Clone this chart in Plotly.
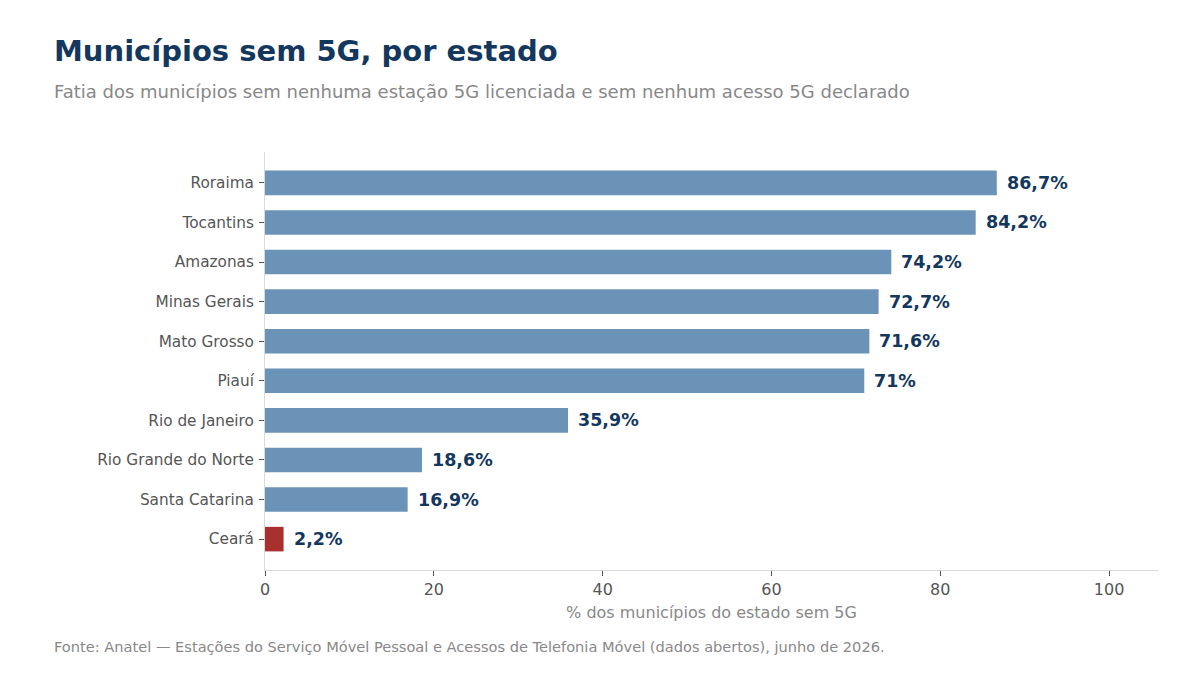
import plotly.graph_objects as go

estados = ["Roraima", "Tocantins", "Amazonas", "Minas Gerais", "Mato Grosso",
           "Piauí", "Rio de Janeiro", "Rio Grande do Norte", "Santa Catarina", "Ceará"]
valores = [86.7, 84.2, 74.2, 72.7, 71.6, 71.0, 35.9, 18.6, 16.9, 2.2]
rotulos = ["86,7%", "84,2%", "74,2%", "72,7%", "71,6%", "71%", "35,9%", "18,6%", "16,9%", "2,2%"]
destaque = "Ceará"

AZUL = "#6a93b7"
VERMELHO = "#a8312f"
NAVY = "#14375e"
CINZA = "#888888"

# page places the figure 8px from the top-left corner
OFF = 8
W, H = 1200, 675
ML, MR, MT, MB = 265 - OFF, 42 + OFF, 152 - OFF, 105 + OFF

cores = [VERMELHO if e == destaque else AZUL for e in estados]

fig = go.Figure()
fig.add_trace(go.Bar(
    x=valores, y=estados, orientation="h",
    marker=dict(color=cores, line=dict(width=0)),
    width=0.62, hoverinfo="skip",
))

for e, v, r in zip(estados, valores, rotulos):
    fig.add_annotation(x=v, y=e, text="<b>" + r + "</b>", showarrow=False,
                       xanchor="left", xshift=8,
                       font=dict(size=17.5, color=NAVY, family="DejaVu Sans"))

fig.update_layout(
    width=W, height=H,
    paper_bgcolor="white", plot_bgcolor="white",
    margin=dict(l=ML, r=MR, t=MT, b=MB),
    font=dict(family="DejaVu Sans", color="#555555"),
    showlegend=False,
)
fig.update_xaxes(
    range=[0, 105.8], tickvals=[0, 20, 40, 60, 80, 100],
    showgrid=False, zeroline=False,
    showline=True, linecolor="#d9d9d9", linewidth=1,
    ticks="outside", ticklen=5, tickcolor="#555555",
    tickfont=dict(size=16, color="#555555"),
    title=dict(text="% dos municípios do estado sem 5G", font=dict(size=16, color=CINZA), standoff=8),
)
fig.update_yaxes(
    autorange=False, range=[9.78, -0.78],
    categoryorder="array", categoryarray=estados,
    showgrid=False, zeroline=False,
    showline=True, linecolor="#d9d9d9", linewidth=1,
    ticks="outside", ticklen=5, tickcolor="#555555",
    ticklabelstandoff=2,
    tickfont=dict(size=15.3, color="#555555"),
)


def texto(t, px, py, size, color):
    # px, py in page pixels -> paper coords of the plot area
    x = (px - OFF - ML) / (W - ML - MR)
    y = 1 - (py - OFF - MT) / (H - MT - MB)
    fig.add_annotation(text=t, xref="paper", yref="paper", x=x, y=y,
                       xanchor="left", yanchor="middle", showarrow=False,
                       font=dict(size=size, color=color, family="DejaVu Sans"))


texto("<b>Municípios sem 5G, por estado</b>", 52, 51, 29, NAVY)
texto("Fatia dos municípios sem nenhuma estação 5G licenciada e sem nenhum acesso 5G declarado",
      52, 92, 18, CINZA)
texto("Fonte: Anatel — Estações do Serviço Móvel Pessoal e Acessos de Telefonia Móvel (dados abertos), junho de 2026.",
      52, 646, 14.6, CINZA)

fig.write_html("out.html")
